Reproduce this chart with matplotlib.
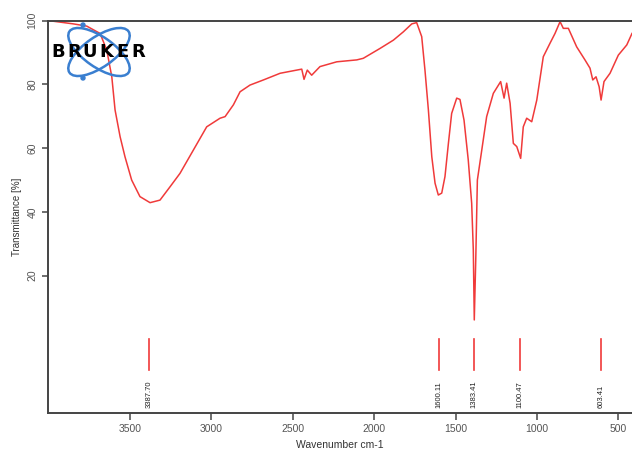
import matplotlib
matplotlib.use("Agg")
import matplotlib.pyplot as plt
from matplotlib.patches import Ellipse, Circle

plt.rcParams['font.family'] = ['Liberation Sans', 'DejaVu Sans']

# spectrum (wavenumber cm-1, transmittance %)
wavenumber = [3996, 3848, 3766, 3684, 3643, 3612, 3592, 3561, 3531, 3490,
              3439, 3377, 3316, 3254, 3193, 3111, 3029, 2947, 2916, 2865,
              2824, 2763, 2681, 2578, 2476, 2445, 2431, 2411, 2384, 2333,
              2230, 2107, 2067, 1964, 1882, 1821, 1769, 1739, 1708, 1688,
              1667, 1646, 1626, 1606, 1585, 1565, 1544, 1524, 1493, 1473,
              1448, 1422, 1401, 1391, 1385, 1376, 1366, 1339, 1309, 1268,
              1223, 1202, 1186, 1165, 1145, 1124, 1100, 1084, 1063, 1032,
              1001, 961, 920, 889, 858, 838, 807, 756, 705, 674,
              657, 637, 618, 606, 588, 551, 500, 448, 416]
transmittance = [100.0, 99.0, 98.3, 96.0, 90.8, 82.4, 72.0, 63.6, 57.3, 50.0,
                 44.8, 42.9, 43.7, 47.9, 52.1, 59.4, 66.7, 69.4, 69.9, 73.6,
                 77.7, 79.8, 81.4, 83.5, 84.5, 84.8, 81.6, 84.5, 82.9, 85.6,
                 87.1, 87.7, 88.2, 91.3, 93.9, 96.5, 99.0, 99.4, 95.0, 84.5,
                 72.0, 57.3, 49.0, 45.3, 45.9, 51.1, 61.5, 70.9, 75.7, 75.3,
                 68.8, 56.3, 42.7, 28.1, 6.1, 24.9, 50.0, 59.4, 69.9, 77.2,
                 80.9, 75.7, 80.4, 74.1, 61.5, 60.5, 56.8, 66.7, 69.4, 68.3,
                 75.1, 88.7, 92.9, 96.0, 99.7, 97.6, 97.6, 91.8, 87.7, 85.1,
                 81.4, 82.4, 79.3, 75.1, 80.9, 83.5, 89.2, 92.4, 96.0]

# picked peaks
peak_pos = [3384, 1602, 1387, 1104, 606]
peak_txt = ["3387.70", "1600.11", "1383.41", "1100.47", "603.41"]

red = '#f03a3a'
grey = '#555555'

fig = plt.figure(figsize=(6.32, 4.61), dpi=100)
ax = fig.add_axes([48 / 632, 0.1048, 1 - 48 / 632, 0.8503])

ax.plot(wavenumber, transmittance, color=red, lw=1.1)

for p, t in zip(peak_pos, peak_txt):
    ax.plot([p, p], [0, -9.5], color=red, lw=1.2)
    ax.text(p, -21.5, t, rotation=90, ha='center', va='bottom',
            fontsize=5.5, color='#222222')

ax.set_xlim(4004, 416)
ax.set_ylim(-23, 100)
ax.set_xticks([3500, 3000, 2500, 2000, 1500, 1000, 500])
ax.set_yticks([20, 40, 60, 80, 100])
ax.tick_params(axis='x', labelsize=7.5, colors=grey, length=5, width=1.2)
ax.tick_params(axis='y', labelsize=7.5, colors=grey, length=4, width=1.2,
               labelrotation=90)
for lab in ax.get_yticklabels():
    lab.set_va('center')
ax.spines['right'].set_visible(False)
for s in ['left', 'bottom', 'top']:
    ax.spines[s].set_color('#444444')
    ax.spines[s].set_linewidth(1.4)

ax.set_xlabel('Wavenumber cm-1', fontsize=7.5, color='#333333', labelpad=4)
ax.set_ylabel('Transmittance [%]', fontsize=7, color='#333333', labelpad=4)

# Bruker logo overlay (pixel coordinates)
ov = fig.add_axes([0, 0, 1, 1], zorder=5)
ov.set_xlim(0, 632)
ov.set_ylim(461, 0)
ov.axis('off')
blue = '#3a7fd0'
for ang in (35, -35):
    ov.add_patch(Ellipse((99, 52), 72, 30, angle=ang, fill=False,
                         ec=blue, lw=1.8))
ov.add_patch(Circle((83, 25), 2.0, color=blue))
ov.add_patch(Circle((83, 78), 2.0, color=blue))
for i, ch in enumerate('BRUKER'):
    ov.text(58 + i * 16, 52, ch, ha='center', va='center', fontsize=13,
            fontweight='heavy', color='black', family='DejaVu Sans')

fig.savefig('out.png', dpi=100)
